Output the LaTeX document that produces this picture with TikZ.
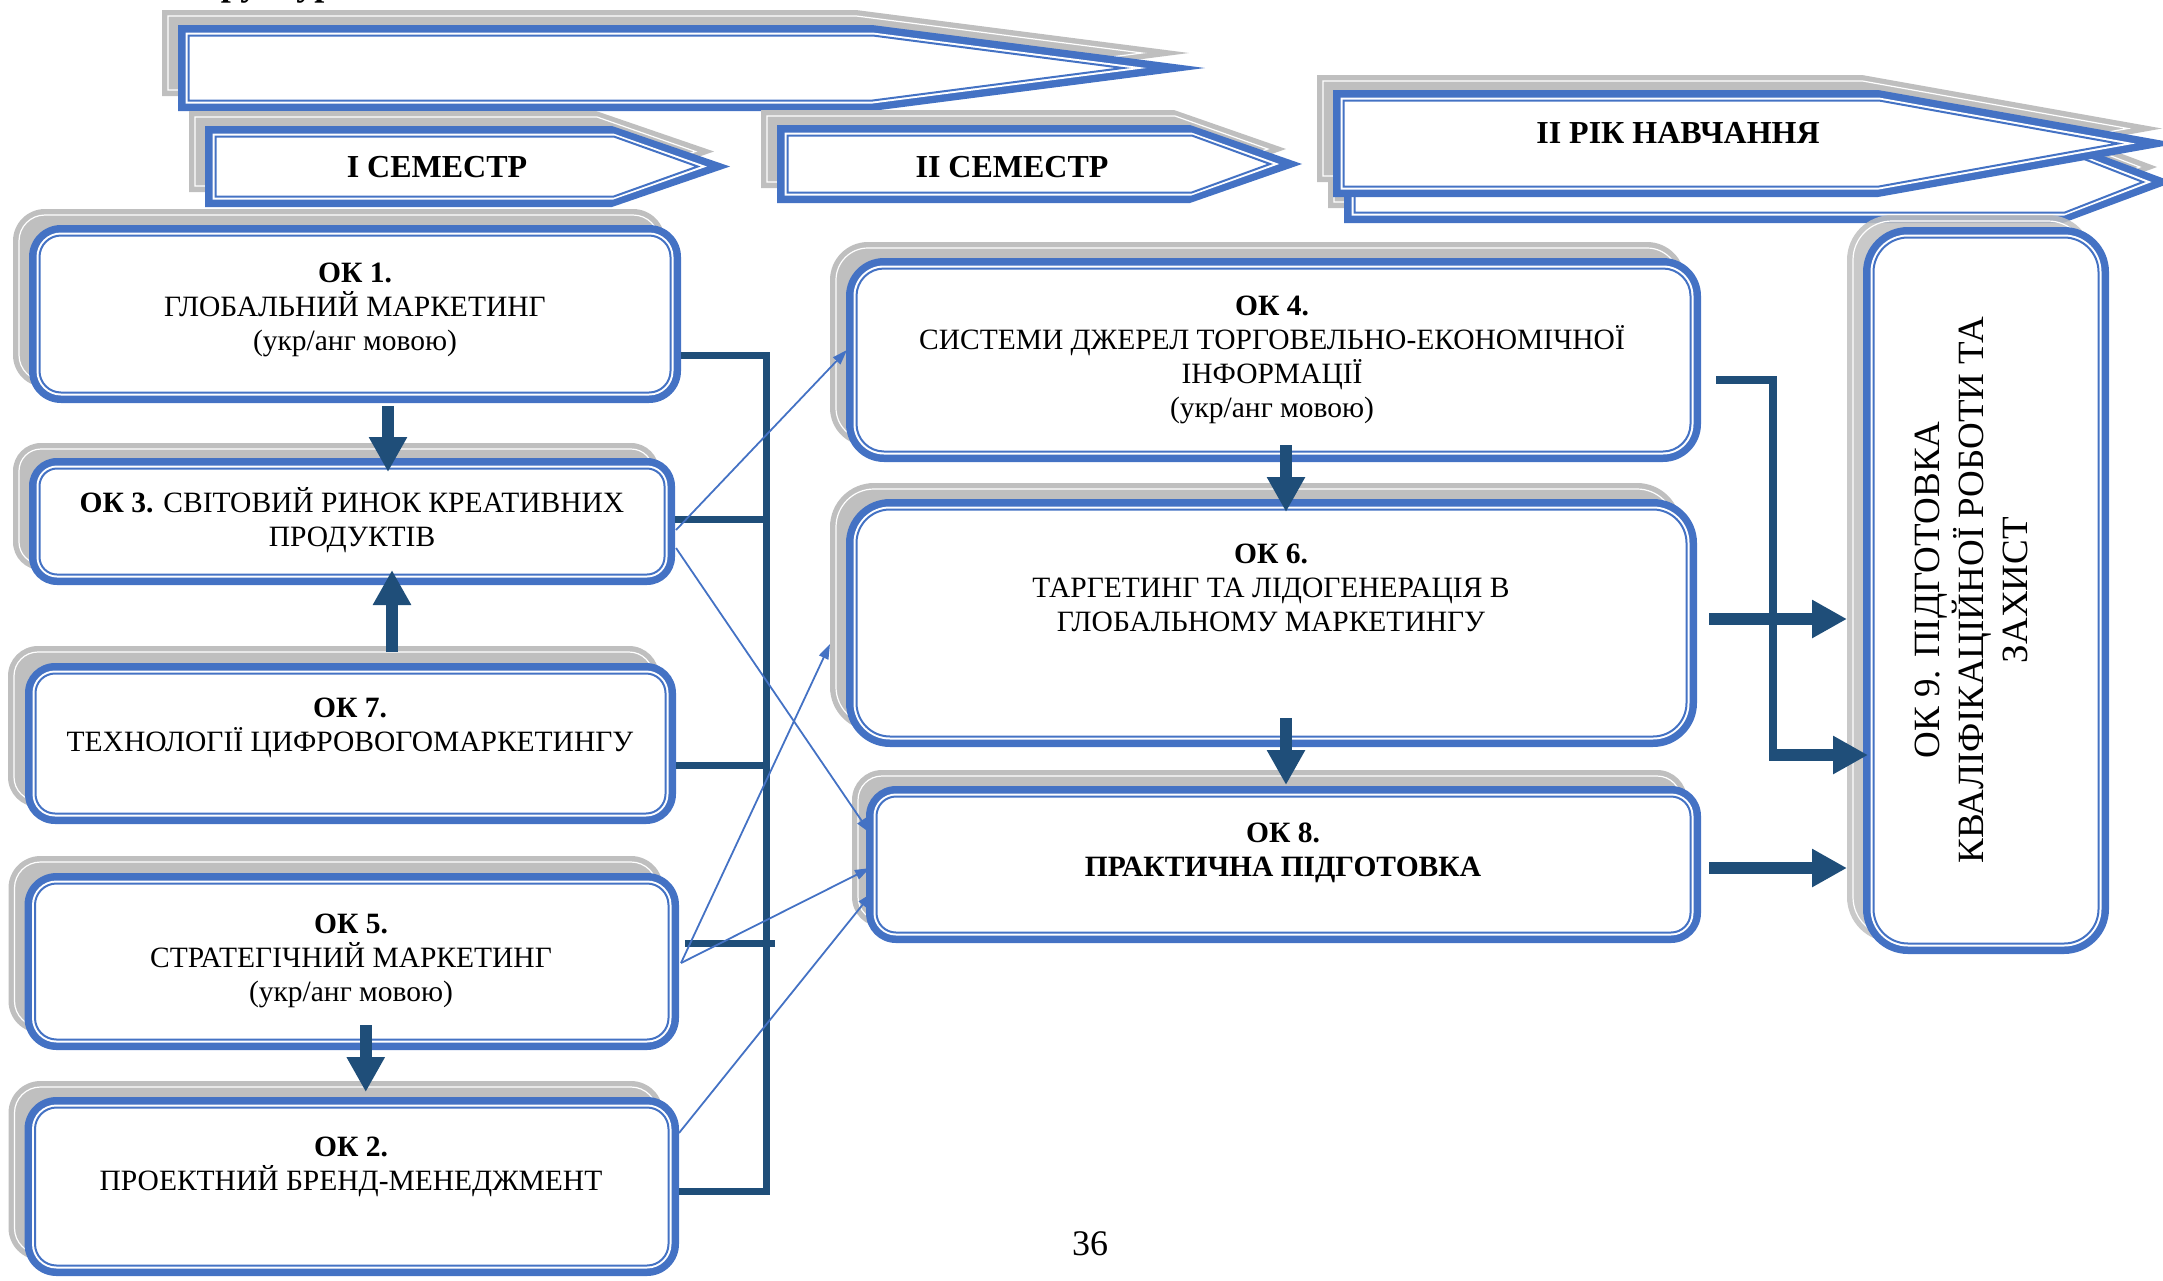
\documentclass[tikz,border=0pt]{standalone}
\usepackage{fontspec}
\setmainfont{Liberation Serif}
\usetikzlibrary{arrows.meta,calc}
\definecolor{ublue}{HTML}{4472C4}
\definecolor{dkblue}{HTML}{1F4E79}
\definecolor{shgray}{HTML}{BFBFBF}
\pgfdeclarelayer{background}
\pgfsetlayers{background,main}

% rounded frame around a named node: name, radius, shadow dx, shadow dy, shadow opacity
\newcommand\roundframe[5]{%
 \fill[shgray, fill opacity=#5, rounded corners=#2pt] ([shift={(#3,#4)}]#1.north west) rectangle ([shift={(#3,#4)}]#1.south east);
 \draw[white, line width=1.2pt, rounded corners={(#2-6)*1pt}] ([shift={({#3+6},{#4+6})}]#1.north west) rectangle ([shift={({#3-6},{#4-6})}]#1.south east);
 \fill[ublue, rounded corners=#2pt] (#1.north west) rectangle (#1.south east);
 \fill[white, rounded corners={(#2-7.5)*1pt}] ([shift={(7.5,7.5)}]#1.north west) rectangle ([shift={(-7.5,-7.5)}]#1.south east);
 \draw[ublue, line width=2pt, rounded corners={(#2-10.5)*1pt}] ([shift={(10.5,10.5)}]#1.north west) rectangle ([shift={(-10.5,-10.5)}]#1.south east);
}

% arrow-shaped banner: x1, ytop, ybottom, x of slant start, x of tip
\newcommand\banner[5]{%
 \pgfmathsetmacro\bh{(#3-#2)/2}%
 \pgfmathsetmacro\bL{#5-#4}%
 \pgfmathsetmacro\ba{atan(\bh/\bL)}%
 \pgfmathsetmacro\bt{tan(\ba/2)}%
 \pgfmathsetmacro\bs{1/sin(\ba)}%
 \def\bpoly##1##2##3{({#1+##1+##2},{#2+##1+##3}) -- ({#4+##1*\bt+##2},{#2+##1+##3}) -- ({#5-##1*\bs+##2},{(#2+#3)/2+##3}) -- ({#4+##1*\bt+##2},{#3-##1+##3}) -- ({#1+##1+##2},{#3-##1+##3}) -- cycle}%
 \fill[shgray] \bpoly{0}{-16}{-15};
 \draw[white, line width=1.2pt] \bpoly{6}{-16}{-15};
 \fill[ublue] \bpoly{0}{0}{0};
 \fill[white] \bpoly{7.5}{0}{0};
 \draw[ublue, line width=2pt] \bpoly{10.5}{0}{0};
}

\begin{document}
\begin{tikzpicture}[x=1pt,y=-1pt, line join=miter,
  okbox/.style={rectangle, draw=none, inner sep=0pt, outer sep=0pt},
  oktext/.style={align=center, inner sep=0pt, font=\fontsize{29.5}{34}\selectfont},
  bantext/.style={inner sep=0pt, font=\fontsize{32}{38}\selectfont\bfseries},
  bus/.style={draw=dkblue, line width=7pt},
  bigarrow/.style={draw=dkblue, line width=12pt, -{Triangle[length=35pt,width=36pt]}},
  thinarrow/.style={draw=ublue, line width=1.8pt, -{Triangle[length=15pt,width=10pt]}}]
\useasboundingbox (0,0) rectangle (2163,1280);

% ---- title line, cut off at the top edge (only descenders visible)
\node[inner sep=0pt, anchor=base west, font=\fontsize{36}{40}\selectfont\bfseries] (title) at (177,-4.8) {Структурно-логічна схема};

% ---- box nodes (blue outer frame size)
\node[okbox, minimum width=652pt, minimum height=178pt] (ok1) at (355,314) {};
\node[okbox, minimum width=646pt, minimum height=127pt] (ok3) at (352,521.5) {};
\node[okbox, minimum width=651pt, minimum height=161pt] (ok7) at (350.5,743.5) {};
\node[okbox, minimum width=654.5pt, minimum height=177pt] (ok5) at (351.75,961.5) {};
\node[okbox, minimum width=654.5pt, minimum height=179pt] (ok2) at (351.75,1186.5) {};
\node[okbox, minimum width=855pt, minimum height=204pt] (ok4) at (1273.5,360) {};
\node[okbox, minimum width=851pt, minimum height=248pt] (ok6) at (1271.5,623) {};
\node[okbox, minimum width=835pt, minimum height=157pt] (ok8) at (1283.5,864.5) {};
\node[okbox, minimum width=246pt, minimum height=727pt] (ok9) at (1986,590.5) {};

% ---- texts
\node[oktext] (ok1t) at (355,310) {\textbf{ОК 1.}\\ГЛОБАЛЬНИЙ МАРКЕТИНГ\\(укр/анг мовою)};
\node[oktext] (ok3t) at (352,520.5) {\textbf{ОК 3.} СВІТОВИЙ РИНОК КРЕАТИВНИХ\\ПРОДУКТІВ};
\node[oktext] (ok7t) at (350,728) {\textbf{ОК 7.}\\ТЕХНОЛОГІЇ ЦИФРОВОГОМАРКЕТИНГУ};
\node[oktext] (ok5t) at (351,961) {\textbf{ОК 5.}\\СТРАТЕГІЧНИЙ МАРКЕТИНГ\\(укр/анг мовою)};
\node[oktext] (ok2t) at (351,1167) {\textbf{ОК 2.}\\ПРОЕКТНИЙ БРЕНД-МЕНЕДЖМЕНТ};
\node[oktext] (ok4t) at (1272,360) {\textbf{ОК 4.}\\СИСТЕМИ ДЖЕРЕЛ ТОРГОВЕЛЬНО-ЕКОНОМІЧНОЇ\\ІНФОРМАЦІЇ\\(укр/анг мовою)};
\node[oktext] (ok6t) at (1271,588) {\textbf{ОК 6.}\\ТАРГЕТИНГ ТА ЛІДОГЕНЕРАЦІЯ В\\ГЛОБАЛЬНОМУ МАРКЕТИНГУ};
\node[oktext] (ok8t) at (1283,853) {\textbf{ОК 8.}\\\textbf{ПРАКТИЧНА ПІДГОТОВКА}};
\node[oktext, rotate=90, font=\fontsize{37}{44}\selectfont] (ok9t) at (1971,590) {ОК 9. ПІДГОТОВКА\\КВАЛІФІКАЦІЙНОЇ РОБОТИ ТА\\ЗАХИСТ};

\node[bantext] (sem1) at (437,167.5) {I СЕМЕСТР};
\node[bantext] (sem2) at (1012,167.5) {II СЕМЕСТР};
\node[bantext] (rik) at (1678,132.5) {II РІК НАВЧАННЯ};
\node[inner sep=0pt, font=\fontsize{36}{40}\selectfont] (pnum) at (1090,1244) {36};

% ---- background: banners and frames
\begin{pgfonlayer}{background}
 \banner{178}{25}{111}{872}{1205}
 \banner{205}{126}{207}{612}{730}
 \banner{777}{125}{203}{1190}{1302}
 \banner{1344}{141}{223}{2063}{2173}
 \banner{1333}{90}{197}{1878}{2178}
 \roundframe{ok1}{32}{-16}{-16}{1}
 \roundframe{ok3}{28}{-16}{-15}{1}
 \roundframe{ok7}{30}{-17}{-17}{1}
 \roundframe{ok5}{32}{-16}{-17}{1}
 \roundframe{ok2}{32}{-16}{-16}{1}
 \roundframe{ok4}{38}{-16}{-16}{1}
 \roundframe{ok6}{44}{-16}{-16}{1}
 \roundframe{ok8}{30}{-14}{-16}{1}
 \roundframe{ok9}{45}{-16}{-12}{0.85}
\end{pgfonlayer}

% ---- bus and connectors
\coordinate (busT) at ([shift={(85,41)}]ok1.east);
\coordinate (busB) at ([shift={(87,4.5)}]ok2.east);
\draw[bus] ([shift={(0,41)}]ok1.east) -- (busT) -- (busB) -- ([shift={(0,4.5)}]ok2.east);
\draw[bus] ([shift={(0,-2.5)}]ok3.east) -- ++(91,0);
\draw[bus] ([shift={(0,21.5)}]ok7.east) -- ++(90,0);
\draw[bus] ([shift={(6,-18.5)}]ok5.east) -- ++(90,0);

% ---- thick arrows
\draw[bigarrow] ([shift={(33,3)}]ok1.south) -- ([shift={(36,14)}]ok3.north);
\draw[bigarrow] ([shift={(41.5,-11)}]ok7.north) -- ([shift={(40,-15)}]ok3.south);
\draw[bigarrow] ([shift={(14,-25)}]ok5.south) -- ([shift={(14,-5)}]ok2.north);
\draw[bigarrow] ([shift={(12.5,-17)}]ok4.south) -- ([shift={(14.5,13)}]ok6.north);
\draw[bigarrow] ([shift={(14.5,-29)}]ok6.south) -- ([shift={(2.5,-1)}]ok8.north);
\draw[bigarrow] ([shift={(12,-4)}]ok6.east) -- ([shift={(-16,28.5)}]ok9.west);
\draw[bigarrow] ([shift={(8,3.5)}]ok8.east) -- ([shift={(-16,277.5)}]ok9.west);
\coordinate (k4) at ([shift={(-90,164.5)}]ok9.west);
\draw[draw=dkblue, line width=8pt] ([shift={(15,20)}]ok4.east) -| (k4);
\draw[bigarrow] ([shift={(-4,0)}]k4) -- ([shift={(5,164.5)}]ok9.west);

% ---- thin arrows
\draw[thinarrow] ([shift={(1,8.5)}]ok3.east) -- ([shift={(1,-10)}]ok4.west);
\draw[thinarrow] ([shift={(1,26.5)}]ok3.east) -- ([shift={(4,-31.5)}]ok8.west);
\draw[thinarrow] ([shift={(2,1.5)}]ok5.east) -- ([shift={(-16,21)}]ok6.west);
\draw[thinarrow] ([shift={(2,1.5)}]ok5.east) -- ([shift={(4,3.5)}]ok8.west);
\draw[thinarrow] ([shift={(0,-53.5)}]ok2.east) -- ([shift={(6,28.5)}]ok8.west);
\end{tikzpicture}
\end{document}
